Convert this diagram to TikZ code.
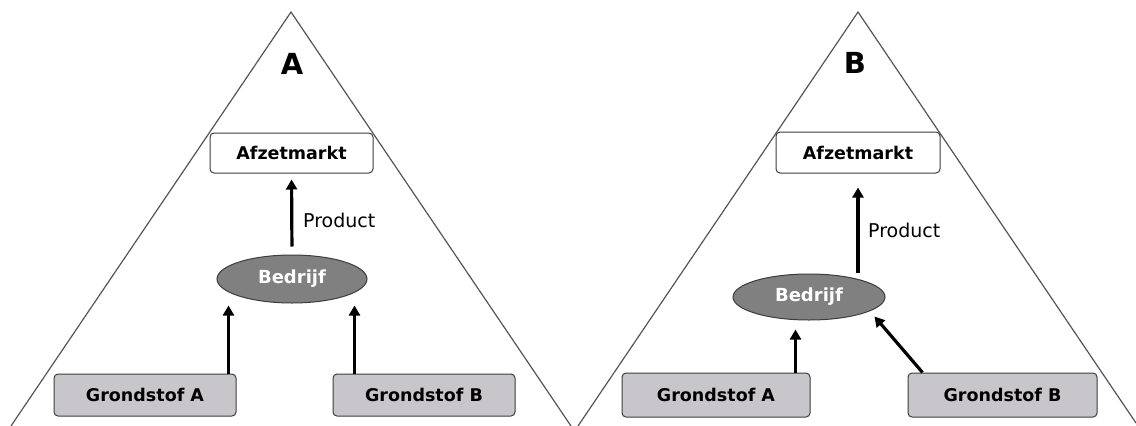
\documentclass[tikz,border=0pt]{standalone}
\usepackage{fontspec}
\setmainfont{DejaVu Sans}
\usetikzlibrary{positioning, arrows.meta, calc, shapes.geometric}
\definecolor{rim}{RGB}{60, 60, 60}
\definecolor{grond}{RGB}{200, 198, 202}
\definecolor{firmfill}{RGB}{128, 128, 128}
\definecolor{flankline}{RGB}{85, 85, 85}

\begin{document}
\begin{tikzpicture}[
    x=1pt, y=-1pt,
    markt/.style={
        rectangle, rounded corners=4pt, draw=rim, fill=white,
        line width=1pt, minimum width=163pt, minimum height=40pt,
        font=\bfseries\fontsize{17.5}{19}\selectfont, inner sep=0pt,
    },
    grond/.style={
        markt, fill=grond, minimum width=182pt, minimum height=42pt,
    },
    firm/.style={
        ellipse, draw=rim, fill=firmfill, line width=1pt,
        minimum width=150pt, minimum height=48pt, inner sep=0pt,
        text=white, font=\bfseries\fontsize{18}{20}\selectfont,
    },
    pijl/.style={-{Triangle[length=10pt, width=11pt]}, line width=3.2pt},
    flank/.style={draw=flankline, line width=1.2pt},
    letter/.style={font=\bfseries\fontsize{29}{31}\selectfont},
    label/.style={font=\fontsize{19}{21}\selectfont, anchor=west, inner sep=0pt},
]
\useasboundingbox (0,0) rectangle (1136,426);

% --- Triangles ---
\draw[flank] (11,426) -- (291,12) -- (571,426);
\draw[flank] (578,426) -- (858,12) -- (1136,423);

% --- Panel A ---
\node[letter] (letA) at (292,64) {A};
\node[markt] (afA) at (291.5,153) {Afzetmarkt};
\node[firm] (bedA) at (292,279) {Bedrijf};
\node[grond] (grA) at (145,395) {Grondstof A};
\node[grond] (grB) at (424,395) {Grondstof B};

\draw[pijl, shorten <=8pt, shorten >=6pt] (bedA.north) -- (afA.south);
\node[label] (prodA) at (303,220) {Product};
\draw[pijl] ([xshift=-8pt]grA.north east) -- ++(0,-68);
\draw[pijl] ([xshift=22pt]grB.north west) -- ++(0,-68);

% --- Panel B ---
\node[letter] (letB) at (855,63) {B};
\node[markt, minimum width=164pt, minimum height=41pt] (afB) at (858,152.5) {Afzetmarkt};
\node[firm, minimum width=152pt, minimum height=46pt] (bedB) at (809,297) {Bedrijf};
\node[grond, minimum width=188pt, minimum height=44pt] (grAB) at (716,395) {Grondstof A};
\node[grond, minimum width=189pt, minimum height=44pt] (grBB) at (1002.5,395) {Grondstof B};

\draw[pijl] ($(afB.south)+(0,99)$) -- ($(afB.south)+(0,14)$);
\node[label] (prodB) at (868,230) {Product};
\draw[pijl] ([xshift=-15pt]grAB.north east) -- ++(0,-43);
\draw[pijl] ([xshift=15pt]grBB.north west) -- ++(-48,-56);

\end{tikzpicture}
\end{document}
